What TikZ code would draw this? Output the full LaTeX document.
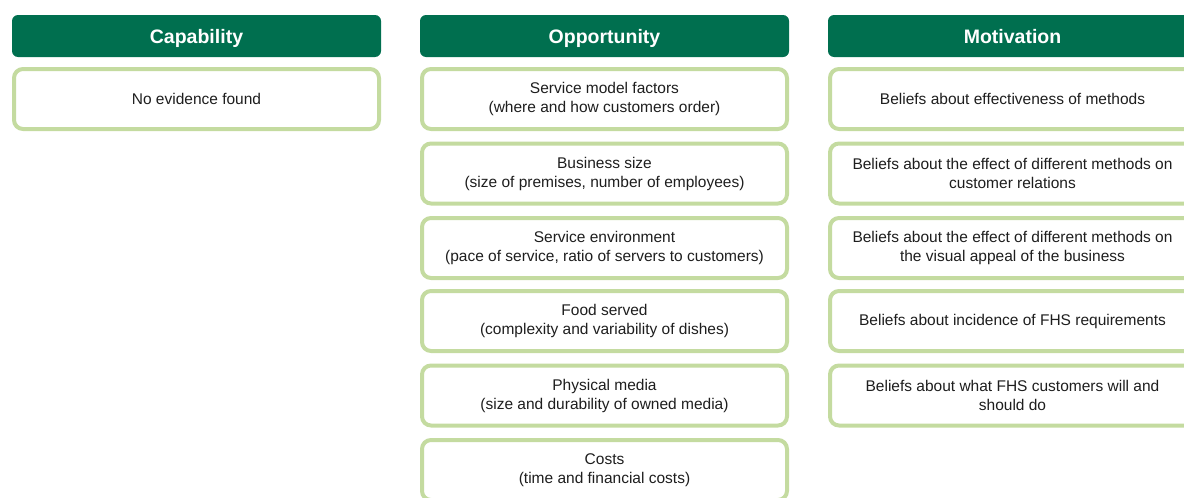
\documentclass[tikz,border=0pt]{standalone}
\usepackage{fontspec}
\setmainfont{Liberation Sans}
\definecolor{hdrgreen}{HTML}{006F4F}
\definecolor{boxgreen}{HTML}{C4DBA0}
\definecolor{txtgray}{HTML}{1E1E1E}
\begin{document}
\begin{tikzpicture}[x=1pt,y=-1pt,
  hdr/.style={rectangle, rounded corners=6pt, fill=hdrgreen, draw=none,
    minimum width=369pt, minimum height=42pt, inner sep=0pt,
    text height=14pt, text depth=0pt,
    text=white, font=\fontsize{19.5}{22}\selectfont\bfseries},
  cell/.style={rectangle, rounded corners=9pt, draw=boxgreen, line width=4pt, fill=white,
    minimum width=365pt, minimum height=60pt, inner sep=0pt,
    align=center, text=txtgray, font=\fontsize{15.5}{19}\selectfont}]
\useasboundingbox (0,0) rectangle (1184,498);
\clip (0,0) rectangle (1184,498);
% Capability
\node[hdr] (caph) at (196.5,36) {Capability};
\node[cell] (cap1) at (196.5,99) {No evidence found};
% Opportunity
\node[hdr] (opph) at (604.5,36) {Opportunity};
\node[cell] (opp1) at (604.5,99) {Service model factors\\(where and how customers order)};
\node[cell] (opp2) at (604.5,173.5) {Business size\\(size of premises, number of employees)};
\node[cell] (opp3) at (604.5,248) {Service environment\\(pace of service, ratio of servers to customers)};
\node[cell] (opp4) at (604.5,321) {Food served\\(complexity and variability of dishes)};
\node[cell] (opp5) at (604.5,395.5) {Physical media\\(size and durability of owned media)};
\node[cell] (opp6) at (604.5,470) {Costs\\(time and financial costs)};
% Motivation
\node[hdr] (moth) at (1012.5,36) {Motivation};
\node[cell] (mot1) at (1012.5,99) {Beliefs about effectiveness of methods};
\node[cell] (mot2) at (1012.5,173.5) {Beliefs about the effect of different methods on\\customer relations};
\node[cell] (mot3) at (1012.5,248) {Beliefs about the effect of different methods on\\the visual appeal of the business};
\node[cell] (mot4) at (1012.5,321) {Beliefs about incidence of FHS requirements};
\node[cell] (mot5) at (1012.5,395.5) {Beliefs about what FHS customers will and\\should do};
\end{tikzpicture}
\end{document}
